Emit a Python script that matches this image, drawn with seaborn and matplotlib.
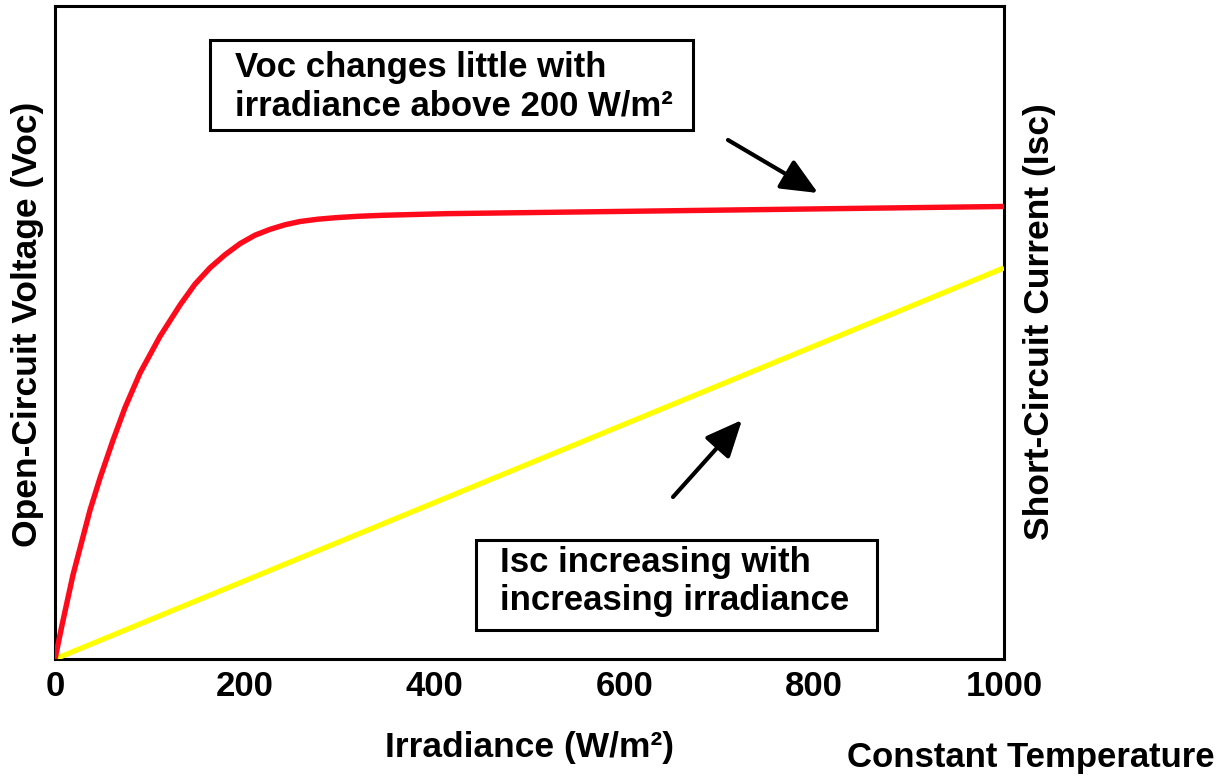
import matplotlib
matplotlib.use("Agg")
import matplotlib.pyplot as plt
from matplotlib.patches import Rectangle
import seaborn as sns
import pandas as pd

# ---- data ----
irr_voc = [0, 7.4, 19.0, 36.9, 47.4, 61.1, 73.8, 89.6, 110.6, 131.7, 147.5,
           163.3, 179.1, 194.9, 210.7, 226.6, 242.4, 258.2, 277.0, 297.2, 320.0,
           345.6, 412.7, 1000]
voc = [0, 0.052, 0.129, 0.228, 0.277, 0.335, 0.385, 0.438, 0.494, 0.542, 0.574,
       0.599, 0.619, 0.636, 0.649, 0.658, 0.665, 0.670, 0.6735, 0.676, 0.678,
       0.6795, 0.682, 0.693]
irr_isc = [0, 1000]
isc = [0, 0.599]
xticks = [0, 200, 400, 600, 800, 1000]

x_label = "Irradiance (W/m²)"
y_label_left = "Open-Circuit Voltage (Voc)"
y_label_right = "Short-Circuit Current (Isc)"
note_voc = "Voc changes little with\nirradiance above 200 W/m²"
note_isc = "Isc increasing with\nincreasing irradiance"
footer = "Constant Temperature"

sns.set_theme(style="white")
plt.rcParams["font.family"] = ["Liberation Sans", "DejaVu Sans"]
plt.rcParams["font.weight"] = "bold"

fig = plt.figure(figsize=(12.28, 7.78), dpi=100)
W, H = 1228, 778
L, R, T, B = 55, 1004, 6, 659
ax = fig.add_axes([L / W, 1 - B / H, (R - L) / W, (B - T) / H])

df_voc = pd.DataFrame({"irr": irr_voc, "val": voc})
df_isc = pd.DataFrame({"irr": irr_isc, "val": isc})
sns.lineplot(data=df_isc, x="irr", y="val", ax=ax, color="#FFFF00", lw=3.8,
             solid_capstyle="butt", zorder=3)
sns.lineplot(data=df_voc, x="irr", y="val", ax=ax, color="#FF0A1A", lw=3.9,
             solid_capstyle="butt", solid_joinstyle="round", zorder=4)

ax.set_xlim(0, 1000)
ax.set_ylim(0, 1)
ax.set_xticks(xticks)
ax.set_xticklabels([str(t) for t in xticks], fontsize=25, fontweight="bold",
                   color="black")
ax.set_yticks([])
ax.tick_params(axis="x", length=0, pad=8)
for s in ax.spines.values():
    s.set_visible(True)
    s.set_color("black")
    s.set_linewidth(2.2)

def fx(px):
    return (px - L) / (R - L)

def fy(py):
    return (B - py) / (B - T)

ax.set_xlabel(x_label, fontsize=25.5, fontweight="bold", color="black")
ax.xaxis.set_label_coords(0.5, fy(731))
ax.set_ylabel(y_label_left, fontsize=25.5, fontweight="bold", color="black",
              va="center")
ax.yaxis.set_label_coords(fx(28), fy(324))

ax2 = ax.twinx()
ax2.set_yticks([])
for s in ax2.spines.values():
    s.set_visible(False)
ax2.set_ylabel(y_label_right, fontsize=25.5, fontweight="bold", color="black",
               va="center")
ax2.yaxis.set_label_coords(fx(1040), fy(322))

# annotation boxes
for (x0, x1, y0, y1) in [(210, 693, 40, 130), (476, 877, 540, 630)]:
    ax.add_patch(Rectangle((fx(x0), fy(y1)), fx(x1) - fx(x0), fy(y0) - fy(y1),
                           transform=ax.transAxes, fill=True, facecolor="white",
                           edgecolor="black", lw=2.2, clip_on=False, zorder=5))
ax.text(fx(235), fy(86.5), note_voc, transform=ax.transAxes, ha="left",
        va="center", fontsize=25, fontweight="bold", color="black",
        linespacing=1.2, zorder=6)
ax.text(fx(500), fy(581.5), note_isc, transform=ax.transAxes, ha="left",
        va="center", fontsize=25, fontweight="bold", color="black",
        linespacing=1.2, zorder=6)

# arrows
arrow_kw = dict(arrowstyle="-|>,head_length=0.9,head_width=0.4", color="black",
                lw=3, shrinkA=0, shrinkB=0, mutation_scale=25)
ax.annotate("", xy=(fx(818), fy(193)), xytext=(fx(728), fy(140)),
            xycoords="axes fraction", textcoords="axes fraction",
            arrowprops=arrow_kw)
ax.annotate("", xy=(fx(742), fy(420)), xytext=(fx(673), fy(497)),
            xycoords="axes fraction", textcoords="axes fraction",
            arrowprops=arrow_kw)

fig.text(1215 / W, 1 - 757 / H, footer, ha="right", va="center", fontsize=25,
         fontweight="bold", color="black")

fig.savefig("out.png", dpi=100, facecolor="white")
